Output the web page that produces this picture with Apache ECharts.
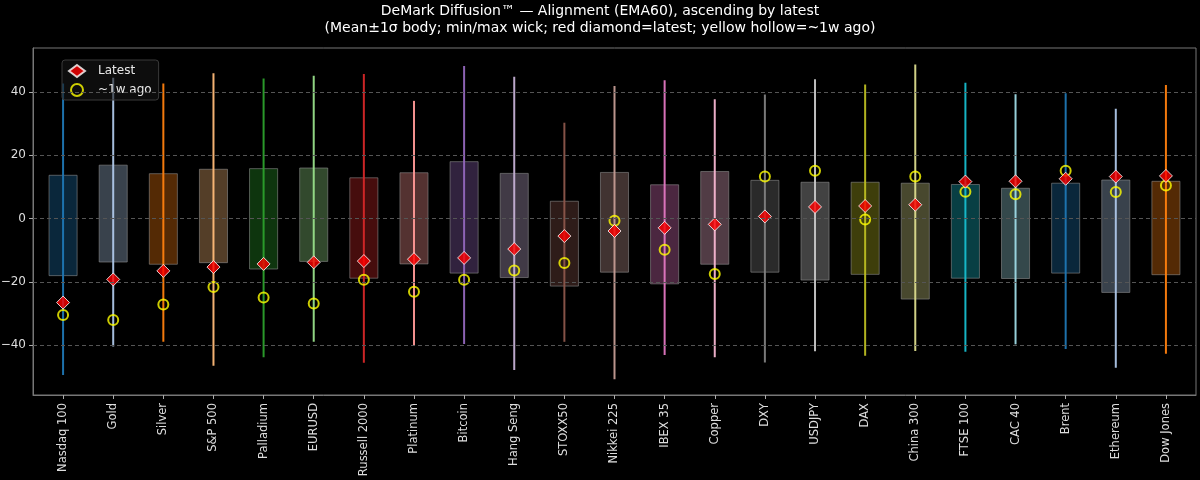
<!DOCTYPE html>
<html><head><meta charset="utf-8">
<script src="https://cdn.jsdelivr.net/npm/echarts@6/dist/echarts.min.js"></script>
<style>html,body{margin:0;padding:0;background:#000;}#c{width:1200px;height:480px;}</style>
</head><body><div id="c"></div>
<script>
const categories = ['Nasdaq 100','Gold','Silver','S&P 500','Palladium','EURUSD','Russell 2000','Platinum','Bitcoin','Hang Seng','STOXX50','Nikkei 225','IBEX 35','Copper','DXY','USDJPY','DAX','China 300','FTSE 100','CAC 40','Brent','Ethereum','Dow Jones'];
const bodyHigh = [13.7,16.9,14.2,15.6,15.8,16.0,12.9,14.5,18.0,14.3,5.5,14.6,10.7,14.9,12.1,11.5,11.5,11.2,10.8,9.6,11.2,12.2,11.8];
const bodyLow = [-18.0,-13.7,-14.4,-13.9,-15.9,-13.5,-18.8,-14.3,-17.2,-18.6,-21.3,-16.9,-20.6,-14.4,-16.9,-19.4,-17.6,-25.4,-18.8,-18.9,-17.2,-23.3,-17.7];
const wickMax = [42.7,44.5,42.7,45.9,44.3,45.1,45.7,37.2,48.2,44.8,30.3,41.9,43.7,37.7,39.2,44.0,42.4,48.7,42.9,39.3,39.6,34.7,42.2];
const wickMin = [-49.4,-40.4,-38.9,-46.5,-43.8,-38.9,-45.5,-40.2,-39.6,-47.8,-38.9,-50.7,-43.1,-43.8,-45.4,-41.9,-43.3,-41.8,-42.0,-39.7,-41.2,-47.1,-42.7];
const latest = [-26.5,-19.2,-16.5,-15.3,-14.3,-13.8,-13.4,-12.8,-12.4,-9.6,-5.5,-3.9,-2.9,-1.8,0.7,3.7,4.0,4.4,11.7,11.8,12.6,13.3,13.5];
const weekAgo = [-30.4,-32.0,-27.1,-21.6,-24.9,-26.8,-19.3,-23.1,-19.3,-16.4,-14.0,-0.7,-9.8,-17.5,13.3,15.1,-0.3,13.3,8.5,7.7,15.1,8.4,10.5];
const yTicks = [-40,-20,0,20,40];
const titleLines = ['DeMark Diffusion™ — Alignment (EMA60), ascending by latest','(Mean±1σ body; min/max wick; red diamond=latest; yellow hollow=~1w ago)'];

const palette = ['#1f77b4','#aec7e8','#ff7f0e','#ffbb78','#2ca02c','#98df8a','#d62728','#ff9896','#9467bd','#c5b0d5','#8c564b','#c49c94','#e377c2','#f7b6d2','#7f7f7f','#c7c7c7','#bcbd22','#dbdb8d','#17becf','#9edae5'];
function col(i){return palette[i % palette.length];}
function hexA(h,a){const r=parseInt(h.slice(1,3),16),g=parseInt(h.slice(3,5),16),b=parseInt(h.slice(5,7),16);return `rgba(${r},${g},${b},${a})`;}

const idx = categories.map((_,i)=>i);
const candleData = idx.map(i=>[i,bodyLow[i],bodyHigh[i],wickMin[i],wickMax[i]]);
const font = 'DejaVu Sans';

const chart = echarts.init(document.getElementById('c'));
chart.setOption({
  backgroundColor:'#000',
  animation:false,
  textStyle:{fontFamily:font},
  title:titleLines.map((t,k)=>({
    text:t, left:'center', top:4+k*17, padding:0,
    textStyle:{color:'#ffffff',fontSize:14,fontWeight:'normal',fontFamily:font}
  })),
  legend:{
    left:62, top:60, orient:'vertical', itemGap:5, itemWidth:16, itemHeight:12,
    padding:[4,7,3,6],
    backgroundColor:'rgba(22,22,22,0.6)', borderColor:'#3a3a3a', borderWidth:1, borderRadius:3,
    textStyle:{color:'#e8e8e8',fontSize:12,fontFamily:font,padding:[0,0,0,8]},
    data:['Latest','~1w ago']
  },
  grid:{left:33,right:4,top:48,bottom:85,outerBoundsMode:'none',containLabel:false,show:true,borderColor:'#777',borderWidth:1,backgroundColor:'#000'},
  xAxis:{
    type:'value', min:-0.6, max:22.6,
    axisLine:{show:true,onZero:false,lineStyle:{color:'#777'}},
    splitLine:{show:false},
    axisTick:{show:true,customValues:idx,length:4,lineStyle:{color:'#aaa'}},
    axisLabel:{customValues:idx,rotate:90,color:'#dddddd',fontSize:11.5,fontFamily:font,margin:8,
      formatter:v=>categories[Math.round(v)]||''}
  },
  yAxis:{
    type:'value', min:-55.7, max:53.9,
    axisLine:{show:true,onZero:false,lineStyle:{color:'#777'}},
    axisTick:{show:true,customValues:yTicks,length:4,lineStyle:{color:'#aaa'}},
    axisLabel:{customValues:yTicks,color:'#dddddd',fontSize:12,fontFamily:font,margin:7,
      formatter:v=>v<0?'\u2212'+Math.abs(v):String(v)},
    splitLine:{show:false}
  },
  series:[
    {
      type:'line', data:[], markLine:{silent:true,symbol:'none',label:{show:false},
        lineStyle:{color:'#555',type:[4,3],width:1},
        data:yTicks.map(v=>({yAxis:v}))}
    },
    {
      type:'custom', name:'bodies', data:candleData, z:2,
      encode:{x:0,y:[1,2,3,4]},
      renderItem:function(params,api){
        const i = api.value(0);
        const c = col(i);
        const lo = api.coord([i,api.value(1)]);
        const hi = api.coord([i,api.value(2)]);
        const wlo = api.coord([i,api.value(3)]);
        const whi = api.coord([i,api.value(4)]);
        const w = api.size([0.56,0])[0];
        return {type:'group',children:[
          {type:'rect',shape:{x:lo[0]-w/2,y:hi[1],width:w,height:lo[1]-hi[1]},
            style:{fill:hexA(c,0.33),stroke:'rgba(150,150,150,0.55)',lineWidth:1}},
          {type:'line',shape:{x1:wlo[0],y1:wlo[1],x2:whi[0],y2:whi[1]},
            style:{stroke:hexA(c,0.95),lineWidth:2}}
        ]};
      }
    },
    {
      type:'scatter', name:'Latest', z:4, symbol:'diamond', symbolSize:13,
      data:idx.map(i=>[i,latest[i]]),
      itemStyle:{color:'#ff0000',borderColor:'#ffffff',borderWidth:1}
    },
    {
      type:'scatter', name:'~1w ago', z:3, symbol:'circle', symbolSize:10,
      data:idx.map(i=>[i,weekAgo[i]]),
      itemStyle:{color:'rgba(0,0,0,0)',borderColor:'#ffff00',borderWidth:2}
    }
  ]
});
</script></body></html>
